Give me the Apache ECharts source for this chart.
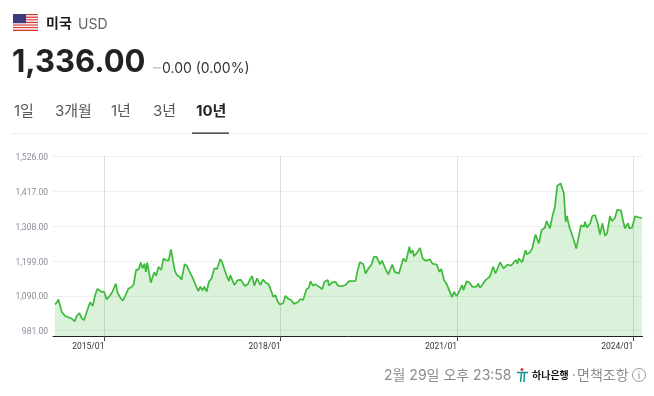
<!DOCTYPE html>
<html>
<head>
<meta charset="utf-8">
<style>
  html, body { margin: 0; padding: 0; background: #fff; }
  #chart { width: 654px; height: 396px; }
</style>
<script src="https://cdn.jsdelivr.net/npm/echarts@6/dist/echarts.min.js"></script>
</head>
<body>
<div id="chart"></div>
<script>
const FONT = 'Inter, "Noto Sans CJK KR", sans-serif';

// x position as decimal year
const years = [
  2014.159,2014.199,2014.216,2014.244,2014.273,2014.301,2014.330,2014.386,2014.443,2014.494,2014.528,2014.574,2014.614,2014.653,2014.699,2014.727,2014.756,2014.801,2014.841,2014.881,2014.915,2014.955,2014.994,
  2015.040,2015.097,2015.136,2015.165,2015.193,2015.227,2015.278,2015.313,2015.352,2015.381,2015.409,2015.449,2015.494,2015.540,2015.580,2015.619,2015.648,2015.682,2015.705,2015.727,2015.761,2015.790,2015.813,2015.847,2015.881,2015.920,2015.966,
  2016.006,2016.045,2016.091,2016.131,2016.159,2016.199,2016.233,2016.278,2016.313,2016.364,2016.403,2016.438,2016.472,2016.506,2016.551,2016.597,2016.631,2016.670,2016.699,2016.739,2016.778,2016.824,2016.869,2016.915,2016.943,2016.972,
  2017.000,2017.040,2017.085,2017.119,2017.142,2017.176,2017.210,2017.239,2017.267,2017.324,2017.358,2017.392,2017.438,2017.472,2017.511,2017.551,2017.597,2017.653,2017.699,2017.739,2017.795,2017.852,2017.869,2017.909,2017.949,2017.983,
  2018.040,2018.080,2018.136,2018.176,2018.222,2018.290,2018.335,2018.381,2018.438,2018.477,2018.506,2018.545,2018.591,2018.648,2018.705,2018.744,2018.801,2018.818,2018.875,2018.932,2018.972,
  2019.028,2019.102,2019.159,2019.273,2019.301,2019.347,2019.403,2019.443,2019.500,2019.540,2019.585,2019.631,2019.688,2019.722,2019.784,2019.830,2019.898,2019.938,
  2020.011,2020.040,2020.085,2020.131,2020.188,2020.210,2020.244,2020.267,2020.324,2020.369,2020.415,2020.466,2020.540,2020.580,2020.653,2020.699,2020.733,2020.778,2020.818,2020.858,2020.915,2020.949,2020.989,
  2021.028,2021.085,2021.108,2021.165,2021.210,2021.261,2021.330,2021.358,2021.392,2021.426,2021.483,2021.557,2021.614,2021.653,2021.733,2021.790,2021.858,2021.915,
  2022.000,2022.028,2022.051,2022.108,2022.165,2022.188,2022.239,2022.278,2022.335,2022.392,2022.438,2022.494,2022.523,2022.580,2022.619,2022.665,2022.705,2022.761,2022.818,2022.847,2022.869,2022.909,2022.938,2022.977,
  2023.028,2023.057,2023.108,2023.142,2023.159,2023.176,2023.210,2023.267,2023.301,2023.347,2023.386,2023.432,2023.472,2023.517,2023.551,2023.602,2023.631,2023.688,2023.722,2023.790,2023.830,2023.858,2023.909,2023.932,2023.977,
  2024.028,2024.085,2024.142
];
const rates = [
  1063,1072,1079,1061,1040,1037,1027,1023,1019,1010,1027,1036,1020,1014,1040,1046,1070,1058,1092,1112,1113,1102,1103,
  1079,1092,1103,1101,1128,1098,1082,1075,1089,1090,1113,1116,1124,1172,1172,1194,1176,1191,1165,1194,1160,1131,1129,1164,1153,1181,1171,
  1207,1202,1200,1235,1207,1168,1155,1150,1140,1189,1184,1170,1171,1145,1124,1105,1119,1107,1119,1103,1134,1145,1176,1174,1176,1205,
  1197,1174,1150,1136,1155,1157,1124,1119,1139,1140,1129,1121,1126,1139,1152,1122,1145,1124,1141,1132,1126,1098,1087,1092,1072,1063,
  1067,1090,1080,1077,1065,1070,1080,1077,1111,1115,1136,1122,1126,1119,1111,1134,1140,1122,1132,1134,1122,
  1120,1124,1136,1137,1165,1195,1190,1160,1178,1186,1212,1212,1189,1200,1174,1157,1188,1165,
  1160,1163,1207,1197,1244,1223,1233,1214,1226,1240,1207,1200,1204,1191,1188,1165,1174,1139,1129,1111,1086,1103,1089,
  1101,1124,1108,1136,1132,1118,1119,1128,1115,1118,1139,1150,1181,1160,1195,1176,1188,1184,
  1202,1191,1207,1195,1233,1220,1226,1238,1282,1254,1296,1303,1324,1301,1337,1369,1434,1442,1410,1322,1340,1306,1311,1270,
  1238,1236,1311,1317,1306,1322,1304,1317,1340,1343,1322,1282,1317,1278,1285,1340,1324,1334,1359,1357,1320,1301,1317,1301,1303,
  1339,1336,1334
];
const yTicks = [981, 1090, 1199, 1308, 1417, 1526];
const xTicks = [2015, 2018, 2021, 2024];
const tabs = ['1일', '3개월', '1년', '3년', '10년'];
const tabX = [14, 55, 111, 153, 196];

function label(x, y, text, size, color, weight, align) {
  return {
    type: 'text', x: x, y: y, silent: true,
    style: {
      text: text, fill: color, font: (weight || 400) + ' ' + size + 'px ' + FONT,
      align: align || 'left', verticalAlign: 'middle'
    }
  };
}
function box(x, y, w, h, color) {
  return { type: 'rect', silent: true, shape: { x: x, y: y, width: w, height: h }, style: { fill: color } };
}
function stroke(points, color) {
  return { type: 'polyline', silent: true, shape: { points: points }, style: { stroke: color, lineWidth: 1.5, fill: 'none' } };
}

const graphics = [];

// flag
for (let i = 0; i < 13; i++) {
  graphics.push(box(13, 14 + i * 17 / 13, 25, 17 / 13, i % 2 ? '#f4f4f4' : '#d8352a'));
}
graphics.push(box(13, 14, 13, 9.2, '#3c3b7e'));

// header
graphics.push(label(46, 24, '미국', 14, '#1a1a1a', 700));
graphics.push(label(78, 24.5, 'USD', 14, '#5f6368'));
graphics.push(label(12, 62.5, '1,336.00', 31, '#222222', 700));
graphics.push(box(153, 67, 8, 1.5, '#c4c4c4'));
graphics.push(label(162, 68.5, '0.00 (0.00%)', 14, '#333333'));

// tabs
tabs.forEach(function (t, i) {
  const on = i === 4;
  graphics.push(label(tabX[i], 111, t, 15, on ? '#222222' : '#555555', on ? 700 : 400));
});
graphics.push(box(11, 133, 637, 1, '#eeeeee'));
graphics.push(box(192, 132.5, 37, 1.2, '#222222'));

// footer
graphics.push(label(384, 376, '2월 29일 오후 23:58', 14, '#8c8c8c'));
graphics.push({ type: 'circle', silent: true, shape: { cx: 522, cy: 369.5, r: 1.6 }, style: { fill: '#e2403a' } });
graphics.push(stroke([[517, 372.5], [528, 372.5]], '#0e8f8a'));
graphics.push(stroke([[520.5, 382], [521.5, 373]], '#0e8f8a'));
graphics.push(stroke([[524, 382], [524.5, 373]], '#0e8f8a'));
graphics.push(label(532, 376, '하나은행', 10, '#111111', 700));
graphics.push(label(572, 376, '·', 14, '#8c8c8c'));
graphics.push(label(577, 376, '면책조항', 14, '#8c8c8c'));
graphics.push({ type: 'circle', silent: true, shape: { cx: 639, cy: 375, r: 6.5 }, style: { fill: 'none', stroke: '#9a9a9a', lineWidth: 1 } });
graphics.push(label(639, 375.5, 'i', 10, '#8c8c8c', 400, 'center'));

const chart = echarts.init(document.getElementById('chart'));
chart.setOption({
  animation: false,
  backgroundColor: '#ffffff',
  graphic: { elements: graphics },
  grid: { left: 53, right: 11.5, top: 156.5, bottom: 60 },
  xAxis: {
    type: 'value',
    min: 2014.125,
    max: 2024.155,
    axisLine: { show: true, onZero: false, lineStyle: { color: '#222222', width: 1 } },
    axisTick: { show: true, customValues: xTicks, length: 5, lineStyle: { color: '#444444' } },
    axisLabel: {
      customValues: xTicks, color: '#333333', fontSize: 8.5, margin: 6.5, align: 'right',
      fontFamily: 'Roboto, sans-serif',
      formatter: (v) => v + '/01'
    },
    splitLine: { show: true, lineStyle: { color: '#dcdde2', width: 1 } }
  },
  yAxis: {
    type: 'value',
    min: 964.4,
    max: 1526,
    axisLine: { show: false },
    axisTick: { show: false, customValues: yTicks },
    axisLabel: {
      customValues: yTicks, color: '#878d99', fontSize: 8.5, margin: 5, verticalAlign: 'top', lineHeight: 3,
      fontFamily: 'Roboto, sans-serif',
      formatter: (v) => v.toLocaleString('en-US', { minimumFractionDigits: 2 })
    },
    splitLine: { show: true, lineStyle: { color: '#eeeeee', width: 1 } }
  },
  series: [
    {
      type: 'line',
      data: years.map((y, i) => [y, rates[i]]),
      symbol: 'none',
      lineStyle: { color: '#3dba3a', width: 1.7 },
      areaStyle: { color: 'rgba(61, 186, 58, 0.19)', opacity: 1 }
    }
  ]
});
</script>
</body>
</html>
